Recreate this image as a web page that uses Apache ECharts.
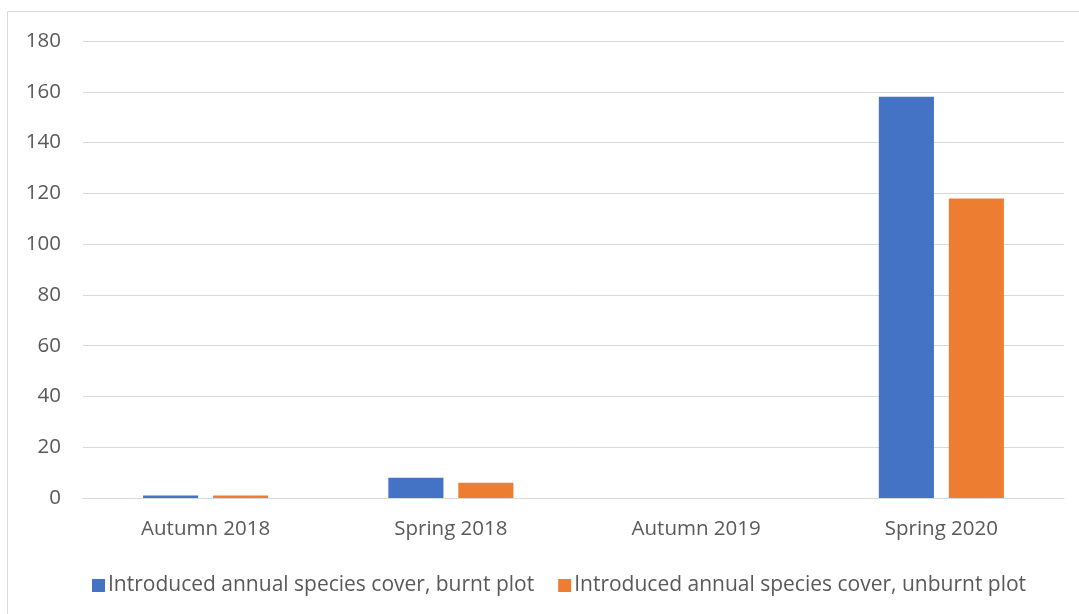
<!DOCTYPE html>
<html>
<head>
<meta charset="utf-8">
<script src="https://cdn.jsdelivr.net/npm/echarts@6/dist/echarts.min.js"></script>
<style>
  html, body { margin: 0; padding: 0; background: #ffffff; }
  #chart { width: 1079px; height: 614px; }
</style>
</head>
<body>
<div id="chart"></div>
<script>
// Seasons surveyed
const categories = ['Autumn 2018', 'Spring 2018', 'Autumn 2019', 'Spring 2020'];
// Introduced annual species cover per plot
const burnt = [1, 8, 0, 158];
const unburnt = [1, 6, 0, 118];
const seriesNames = [
  'Introduced annual species cover, burnt plot',
  'Introduced annual species cover, unburnt plot'
];
// Value axis range
const yMin = 0, yMax = 180, yStep = 20;

const textColor = '#595959';
const fontFamily = '"Open Sans", "Liberation Sans", sans-serif';

const chart = echarts.init(document.getElementById('chart'));
chart.setOption({
  backgroundColor: '#ffffff',
  animation: false,
  textStyle: { fontFamily: fontFamily, color: textColor },
  graphic: [{
    type: 'rect',
    shape: { x: 7.5, y: 11.5, width: 1100, height: 700 },
    style: { fill: 'none', stroke: '#d9d9d9', lineWidth: 1 },
    silent: true,
    z: -1
  }],
  grid: { left: 83, right: 15, top: 41, bottom: 116, containLabel: false },
  legend: {
    left: 87,
    top: 570,
    icon: 'rect',
    itemWidth: 13,
    itemHeight: 13,
    itemGap: 24,
    textStyle: { fontSize: 21, color: textColor, fontFamily: fontFamily, padding: [0, 0, 0, -2] },
    data: seriesNames
  },
  xAxis: {
    type: 'category',
    data: categories,
    axisLine: { show: true, lineStyle: { color: '#d9d9d9', width: 1 } },
    axisTick: { show: false },
    axisLabel: { fontSize: 20.5, color: textColor, margin: 21 }
  },
  yAxis: {
    type: 'value',
    min: yMin,
    max: yMax,
    interval: yStep,
    axisLine: { show: false },
    axisTick: { show: false },
    axisLabel: { fontSize: 20.5, color: textColor, margin: 22 },
    splitLine: { lineStyle: { color: '#d9d9d9', width: 1 } }
  },
  series: [
    {
      name: seriesNames[0],
      type: 'bar',
      data: burnt,
      itemStyle: { color: '#4472c4' },
      barGap: '27%',
      barCategoryGap: '49%'
    },
    {
      name: seriesNames[1],
      type: 'bar',
      data: unburnt,
      itemStyle: { color: '#ed7d31' }
    }
  ]
});
</script>
</body>
</html>
